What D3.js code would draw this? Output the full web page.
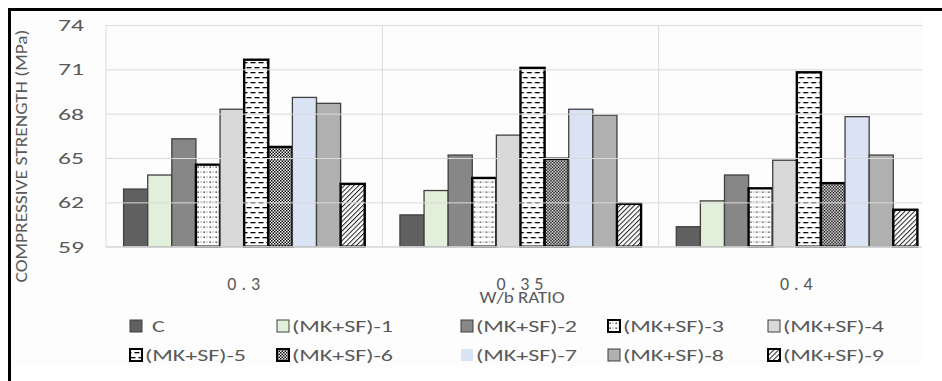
<!DOCTYPE html>
<html>
<head>
<meta charset="utf-8">
<script src="https://cdn.jsdelivr.net/npm/d3@7"></script>
<style>
  html, body { margin: 0; padding: 0; background: #ffffff; }
  svg { display: block; }
  text { font-family: Carlito, Lato, "Open Sans", sans-serif; fill: #595959; }
</style>
</head>
<body>
<svg id="chart" width="942" height="381"></svg>
<script>
// ---- Data ----
const categories = ["0.3", "0.35", "0.4"];
const seriesNames = ["C", "(MK+SF)-1", "(MK+SF)-2", "(MK+SF)-3", "(MK+SF)-4",
                     "(MK+SF)-5", "(MK+SF)-6", "(MK+SF)-7", "(MK+SF)-8", "(MK+SF)-9"];
const valuesC   = [62.9, 61.15, 60.35];
const valuesMK1 = [63.85, 62.8, 62.1];
const valuesMK2 = [66.3, 65.2, 63.85];
const valuesMK3 = [64.55, 63.65, 62.95];
const valuesMK4 = [68.3, 66.55, 64.85];
const valuesMK5 = [71.65, 71.1, 70.8];
const valuesMK6 = [65.75, 64.95, 63.3];
const valuesMK7 = [69.1, 68.3, 67.8];
const valuesMK8 = [68.7, 67.9, 65.2];
const valuesMK9 = [63.25, 61.9, 61.5];
const yTicks = [59, 62, 65, 68, 71, 74];
const yTitle = "COMPRESSIVE STRENGTH (MPa)";
const xTitle = "W/b RATIO";

const seriesValues = [valuesC, valuesMK1, valuesMK2, valuesMK3, valuesMK4,
                      valuesMK5, valuesMK6, valuesMK7, valuesMK8, valuesMK9];

// ---- Styles ----
const fills = ["#606060", "#e2efda", "#878787", "url(#pDots)", "#d9d9d9",
               "url(#pDash)", "url(#pCheck)", "#dae3f3", "#b0b0b0", "url(#pDiag)"];
const patterned = [false, false, false, true, false, true, true, false, false, true];

const svg = d3.select("#chart");
const W = 942, H = 381;

// defs / patterns
const defs = svg.append("defs");
let p = defs.append("pattern").attr("id", "pDots").attr("patternUnits", "userSpaceOnUse")
  .attr("width", 6).attr("height", 5);
p.append("rect").attr("width", 6).attr("height", 5).attr("fill", "#fff");
p.append("rect").attr("x", 1.5).attr("y", 1.5).attr("width", 1.3).attr("height", 1.3).attr("fill", "#111");
p.append("rect").attr("x", 4.5).attr("y", 1.5).attr("width", 1.0).attr("height", 1.0).attr("fill", "#666");

p = defs.append("pattern").attr("id", "pDash").attr("patternUnits", "userSpaceOnUse")
  .attr("width", 8).attr("height", 10);
p.append("rect").attr("width", 8).attr("height", 10).attr("fill", "#fff");
p.append("rect").attr("x", 0.5).attr("y", 2).attr("width", 5).attr("height", 1.3).attr("fill", "#000");
p.append("rect").attr("x", 4.5).attr("y", 7).attr("width", 5).attr("height", 1.3).attr("fill", "#000");
p.append("rect").attr("x", -3.5).attr("y", 7).attr("width", 5).attr("height", 1.3).attr("fill", "#000");

p = defs.append("pattern").attr("id", "pCheck").attr("patternUnits", "userSpaceOnUse")
  .attr("width", 3).attr("height", 3);
p.append("rect").attr("width", 3).attr("height", 3).attr("fill", "#fff");
p.append("rect").attr("x", 0).attr("y", 0).attr("width", 1.5).attr("height", 1.5).attr("fill", "#000");
p.append("rect").attr("x", 1.5).attr("y", 1.5).attr("width", 1.5).attr("height", 1.5).attr("fill", "#000");

p = defs.append("pattern").attr("id", "pDiag").attr("patternUnits", "userSpaceOnUse")
  .attr("width", 3.4).attr("height", 3.4).attr("patternTransform", "rotate(45)");
p.append("rect").attr("width", 3.4).attr("height", 3.4).attr("fill", "#fff");
p.append("rect").attr("x", 0).attr("y", 0).attr("width", 1.0).attr("height", 3.4).attr("fill", "#222");

defs.append("clipPath").attr("id", "plotClip")
  .append("rect").attr("x", 11).attr("y", 11).attr("width", 911).attr("height", 360);

// background
svg.append("rect").attr("x", 11).attr("y", 11).attr("width", 911).attr("height", 355).attr("fill", "#fdfdfd");
// black frame (left & top)
svg.append("rect").attr("x", 8).attr("y", 8).attr("width", W - 8).attr("height", 3).attr("fill", "#000");
svg.append("rect").attr("x", 8).attr("y", 8).attr("width", 3).attr("height", H - 8).attr("fill", "#000");

// ---- Scales ----
const plotL = 106, plotR = 935, plotT = 25, plotB = 246.7;
const x0 = d3.scaleBand().domain(categories).range([plotL, plotR]).paddingInner(0).paddingOuter(0);
const x1 = d3.scaleBand().domain(seriesNames).range([0, x0.bandwidth()]).paddingInner(0).paddingOuter(0.73);
const y = d3.scaleLinear().domain([59, 74]).range([plotB, plotT]);

const plot = svg.append("g").attr("clip-path", "url(#plotClip)");

// horizontal gridlines + tick labels
const yAxis = d3.axisLeft(y).tickValues(yTicks).tickSize(-(plotR - plotL)).tickPadding(22);
const gy = svg.append("g").attr("transform", `translate(${plotL},0)`).call(yAxis);
gy.select(".domain").remove();
gy.selectAll(".tick line").attr("stroke", "#d9d9d9").attr("stroke-width", 1).attr("x2", 922 - plotL);
gy.selectAll(".tick text").attr("font-size", 17).attr("fill", "#595959")
  .style("font-family", "Carlito, Lato, sans-serif");

// vertical category separators
plot.selectAll("line.vsep").data(categories).join("line").attr("class", "vsep")
  .attr("x1", d => x0(d)).attr("x2", d => x0(d))
  .attr("y1", plotT).attr("y2", plotB).attr("stroke", "#d9d9d9").attr("stroke-width", 1);

// bars
const groups = plot.selectAll("g.cat").data(categories).join("g").attr("class", "cat")
  .attr("transform", d => `translate(${x0(d)},0)`);
groups.selectAll("rect").data((c, ci) => seriesNames.map((s, si) => ({ s, si, v: seriesValues[si][ci] })))
  .join("rect")
  .attr("x", d => x1(d.s)).attr("width", x1.bandwidth())
  .attr("y", d => y(d.v)).attr("height", d => y(59) - y(d.v))
  .attr("fill", d => fills[d.si])
  .attr("stroke", d => patterned[d.si] ? "#000" : "#404040")
  .attr("stroke-width", d => patterned[d.si] ? 2.4 : 1.3);

// x axis baseline
plot.append("line").attr("x1", plotL).attr("x2", 922).attr("y1", plotB).attr("y2", plotB)
  .attr("stroke", "#d9d9d9").attr("stroke-width", 1);

// category labels
svg.selectAll("text.cat").data(categories).join("text").attr("class", "cat")
  .attr("x", d => x0(d) + x0.bandwidth() / 2 + 2).attr("y", 290)
  .attr("text-anchor", "middle").attr("font-size", 18).attr("letter-spacing", "5px")
  .text(d => d);

// x title
svg.append("text").attr("class", "xtitle").attr("x", 522).attr("y", 303)
  .attr("text-anchor", "middle").attr("font-size", 17).text(xTitle);

// y title
svg.append("text").attr("class", "ytitle")
  .attr("transform", "translate(27,156) rotate(-90)")
  .attr("text-anchor", "middle").attr("font-size", 16).text(yTitle);

// legend
const legCols = [130, 277, 461, 608, 768];
const legRows = [326, 355];
const leg = svg.selectAll("g.leg").data(seriesNames).join("g").attr("class", "leg")
  .attr("transform", (d, i) => `translate(${legCols[i % 5]},${legRows[Math.floor(i / 5)]})`);
leg.append("rect").attr("x", 0).attr("y", -6).attr("width", 12).attr("height", 12)
  .attr("fill", (d, i) => fills[i])
  .attr("stroke", (d, i) => patterned[i] ? "#000" : (i === 7 ? "none" : "#404040"))
  .attr("stroke-width", (d, i) => patterned[i] ? 2 : 1);
leg.append("text").attr("class", "legtext").attr("x", (d, i) => i === 0 ? 22 : 15).attr("y", 0)
  .attr("dy", "0.35em").attr("font-size", 17).text(d => d);

// horizontal stretch to match reference text widths
function stretch(sel, factor) {
  sel.each(function () {
    const w = this.getComputedTextLength();
    if (w > 0) {
      d3.select(this).attr("textLength", w * factor).attr("lengthAdjust", "spacingAndGlyphs");
    }
  });
}
const refLeg = svg.selectAll("text.legtext").filter(d => d === "(MK+SF)-1").node().getComputedTextLength();
stretch(svg.selectAll("text.legtext"), 101 / refLeg);
const refTick = gy.selectAll(".tick text").filter(d => d === 74).node().getComputedTextLength();
stretch(gy.selectAll(".tick text"), 26 / refTick);
const refY = svg.select("text.ytitle").node().getComputedTextLength();
stretch(svg.select("text.ytitle"), 253 / refY);
const refX = svg.select("text.xtitle").node().getComputedTextLength();
stretch(svg.select("text.xtitle"), 85 / refX);
</script>
</body>
</html>
